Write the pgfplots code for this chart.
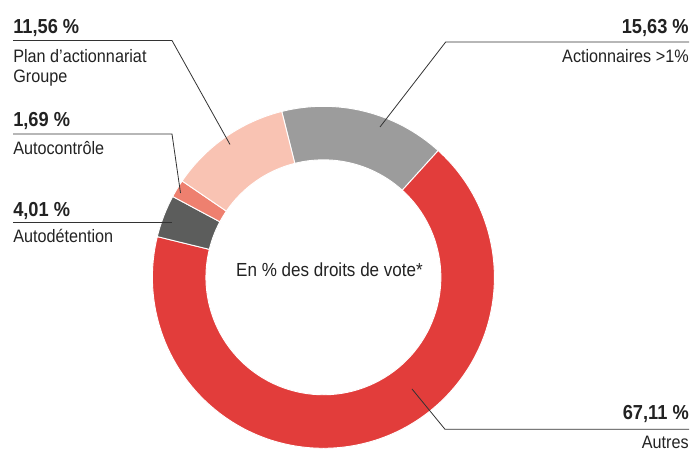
\documentclass[border=0pt]{standalone}
\usepackage{fontspec}
\setmainfont{Liberation Sans}[FakeStretch=0.9]
\usepackage{pgfplots}
\pgfplotsset{compat=1.18}

\definecolor{cred}{HTML}{E23D3B}
\definecolor{cgray}{HTML}{9C9C9C}
\definecolor{cdark}{HTML}{5C5D5C}
\definecolor{csalmon}{HTML}{EE806F}
\definecolor{cpink}{HTML}{F9C3B3}
\definecolor{ctext}{HTML}{222222}
\definecolor{cline}{HTML}{333333}

% shares in %, clockwise from the top
\def\vActionnaires{15.63}
\def\vAutres{67.11}
\def\vAutodetention{4.01}
\def\vAutocontrole{1.69}
\def\vPlan{11.56}
% boundary angles (tikz degrees)
\pgfmathsetmacro\aA{104.1}
\pgfmathsetmacro\aB{\aA-3.6*\vActionnaires}
\pgfmathsetmacro\aC{\aB-3.6*\vAutres}
\pgfmathsetmacro\aD{\aC-3.6*\vAutodetention}
\pgfmathsetmacro\aE{\aD-3.6*\vAutocontrole}
\pgfmathsetmacro\aF{\aE-3.6*\vPlan}

\tikzset{seg/.style={draw=white, line width=0.7pt}}
\newcommand\ro{128.25pt}
\newcommand\ri{88.1pt}
\newcommand\rd{40.15pt}

\begin{document}
\begin{tikzpicture}
\begin{axis}[
    hide axis,
    scale only axis,
    width=519.75pt, height=339pt,
    xmin=0, xmax=693, ymin=0, ymax=452,
    clip=false,
]
\path (axis cs:0,0) rectangle (axis cs:693,452);
\fill[cgray, seg] (axis cs:323.4,174.7) ++(\aA:\ro) arc[start angle=\aA, end angle=\aB, radius=\ro]
    -- ++(\aB+180:\rd) arc[start angle=\aB, end angle=\aA, radius=\ri] -- cycle;
\fill[cred, seg] (axis cs:323.4,174.7) ++(\aB:\ro) arc[start angle=\aB, end angle=\aC, radius=\ro]
    -- ++(\aC+180:\rd) arc[start angle=\aC, end angle=\aB, radius=\ri] -- cycle;
\fill[cdark, seg] (axis cs:323.4,174.7) ++(\aC:\ro) arc[start angle=\aC, end angle=\aD, radius=\ro]
    -- ++(\aD+180:\rd) arc[start angle=\aD, end angle=\aC, radius=\ri] -- cycle;
\fill[csalmon, seg] (axis cs:323.4,174.7) ++(\aD:\ro) arc[start angle=\aD, end angle=\aE, radius=\ro]
    -- ++(\aE+180:\rd) arc[start angle=\aE, end angle=\aD, radius=\ri] -- cycle;
\fill[cpink, seg] (axis cs:323.4,174.7) ++(\aE:\ro) arc[start angle=\aE, end angle=\aF, radius=\ro]
    -- ++(\aF+180:\rd) arc[start angle=\aF, end angle=\aE, radius=\ri] -- cycle;

% leader lines
\draw[cline, line width=0.6pt] (axis cs:13,411.5) -- (axis cs:172,411.5) -- (axis cs:230,307.5);
\draw[cline, line width=0.6pt] (axis cs:689,410) -- (axis cs:445.7,410) -- (axis cs:380,325);
\draw[cline, line width=0.6pt] (axis cs:13,318) -- (axis cs:172,318) -- (axis cs:180.5,259);
\draw[cline, line width=0.6pt] (axis cs:13,229.3) -- (axis cs:172,229.3);
\draw[cline, line width=0.6pt] (axis cs:689,22.7) -- (axis cs:445,22.7) -- (axis cs:412,63);

% labels
\tikzset{pct/.style={font=\fontsize{15.2}{17}\selectfont\bfseries, text=ctext, inner sep=0pt},
         lbl/.style={font=\fontsize{13.5}{15}\selectfont, text=ctext, inner sep=0pt}}
\node[pct, anchor=base west] at (axis cs:13,418) {11,56 \%};
\node[lbl, anchor=base west] at (axis cs:13,389) {Plan d’actionnariat};
\node[lbl, anchor=base west] at (axis cs:13,369.3) {Groupe};
\node[pct, anchor=base west] at (axis cs:13,325) {1,69 \%};
\node[lbl, anchor=base west] at (axis cs:13,297) {Autocontrôle};
\node[pct, anchor=base west] at (axis cs:13,235) {4,01 \%};
\node[lbl, anchor=base west] at (axis cs:13,209) {Autodétention};
\node[pct, anchor=base east] at (axis cs:689,418) {15,63 \%};
\node[lbl, anchor=base east] at (axis cs:689,389) {Actionnaires >1\%};
\node[pct, anchor=base east] at (axis cs:689,32) {67,11 \%};
\node[lbl, anchor=base east] at (axis cs:689,3) {Autres};
\node[lbl, font=\fontsize{14.2}{16}\selectfont, anchor=base] at (axis cs:329.5,175.3) {En \% des droits de vote*};
\end{axis}
\end{tikzpicture}
\end{document}
